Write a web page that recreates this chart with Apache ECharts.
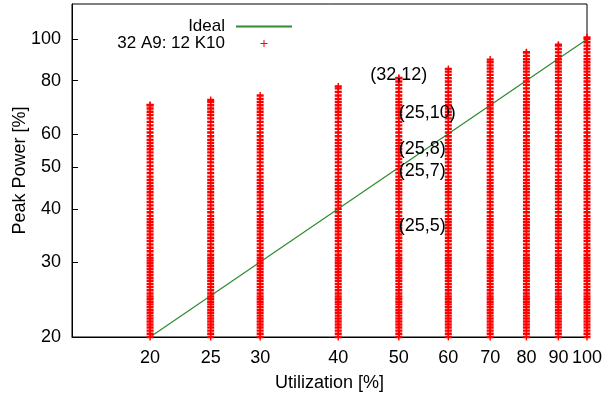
<!DOCTYPE html>
<html>
<head>
<meta charset="utf-8">
<script src="https://cdn.jsdelivr.net/npm/echarts@6/dist/echarts.min.js"></script>
<style>html,body{margin:0;padding:0;background:#fff}#c{width:603px;height:401px}</style>
</head>
<body>
<div id="c"></div>
<script>
const xTicks = [20, 25, 30, 40, 50, 60, 70, 80, 90, 100];
const yTicks = [20, 30, 40, 50, 60, 80, 100];
const utilization = [20, 25, 30, 40, 50, 60, 70, 80, 90, 100];
const columnTop = [70.1, 72.0, 73.8, 77.5, 81.1, 85.2, 89.6, 93.2, 97.1, 101.0];
const powerLevels = [
  20.00,20.35,20.70,21.05,21.40,21.75,22.10,22.45,22.80,23.15,23.50,23.85,24.20,24.55,24.90,
  25.30,25.75,26.20,26.65,27.10,27.55,28.00,28.45,28.90,29.35,29.80,30.25,30.70,
  31.2,31.8,32.4,33.0,33.6,34.2,34.8,35.4,36.0,36.6,37.2,37.8,
  38.5,39.25,40.0,40.75,41.5,42.25,43.0,43.75,44.5,45.25,46.0,46.75,
  47.6,48.55,49.5,50.45,51.4,52.35,53.3,54.25,55.2,56.15,57.1,58.05,
  59.2,60.4,61.6,62.8,64.0,65.2,66.4,67.6,68.8,70.0,71.2,72.4,
  73.8,75.25,76.7,78.15,79.6,81.05,82.5,83.95,85.4,86.85,88.3,89.75,
  91.4,93.15,94.9,96.65,98.4,100.15
];
const idealX = [20, 100];
const idealY = [20, 100];
const labelText = ['(32,12)', '(25,10)', '(25,8)', '(25,7)', '(25,5)'];
const labelX = [45, 50, 50, 50, 50];
const labelY = [82.4, 67.1, 55.3, 49.1, 36.5];

const FONT = 'Liberation Sans';
const plusPath = 'path://M0,3.3H10V6.7H0Z M4,0H6V10H4Z';
const legendPlus = 'path://M0,4.3H10V5.7H0Z M4.3,0H5.7V10H4.3Z';

const pointData = [];
utilization.forEach((u, i) => {
  powerLevels.filter(v => v < columnTop[i]).forEach(v => pointData.push([u, v]));
  pointData.push([u, columnTop[i]]);
});

const chart = echarts.init(document.getElementById('c'));
chart.setOption({
  animation: false,
  textStyle: { fontFamily: FONT },
  grid: { left: 72, right: 16, top: 4, bottom: 64, show: true, borderColor: '#000', borderWidth: 1, outerBoundsMode: 'none', containLabel: false },
  legend: {
    orient: 'vertical', align: 'right', right: 310, top: 18, padding: 0,
    itemWidth: 56, itemHeight: 7, itemGap: 0,
    textStyle: { fontSize: 17, color: '#000', fontFamily: FONT, lineHeight: 17, padding: [0, 6, 0, 0] },
    data: [{ name: 'Ideal' }, { name: '32 A9: 12 K10', icon: legendPlus }]
  },
  xAxis: {
    type: 'log', logBase: 10, min: 15, max: 100,
    name: 'Utilization [%]', nameLocation: 'middle', nameGap: 37, nameMoveOverlap: false,
    nameTextStyle: { fontSize: 18, color: '#000', fontFamily: FONT },
    axisLine: { lineStyle: { color: '#000', width: 1 } },
    axisTick: { inside: true, length: 6, customValues: xTicks, lineStyle: { color: '#000' } },
    axisLabel: { customValues: xTicks, fontSize: 18, color: '#000', margin: 12, fontFamily: FONT },
    splitLine: { show: false }, minorTick: { show: false }
  },
  yAxis: {
    type: 'log', logBase: 10, min: 20, max: 121,
    name: 'Peak Power [%]', nameLocation: 'middle', nameGap: 43, nameMoveOverlap: false,
    nameTextStyle: { fontSize: 18, color: '#000', fontFamily: FONT },
    axisLine: { show: true, lineStyle: { color: '#000', width: 1 } },
    axisTick: { show: true, inside: true, length: 6, customValues: yTicks, lineStyle: { color: '#000' } },
    axisLabel: { customValues: yTicks, fontSize: 18, color: '#000', margin: 11, fontFamily: FONT },
    splitLine: { show: false }, minorTick: { show: false }
  },
  series: [
    {
      name: 'Ideal', type: 'line', symbol: 'none', z: 2,
      data: idealX.map((x, i) => [x, idealY[i]]),
      lineStyle: { color: '#2e8b2e', width: 1.2 },
      itemStyle: { color: 'rgba(0,0,0,0)', borderWidth: 0 }
    },
    {
      name: '32 A9: 12 K10', type: 'scatter', symbol: plusPath, symbolSize: 7, z: 3,
      large: false, progressive: 0,
      data: pointData,
      itemStyle: { color: '#ff0000', opacity: 1 }
    },
    {
      name: 'labels', type: 'custom', z: 10, zlevel: 1, silent: true,
      data: labelX.map((x, i) => [x, labelY[i], i]),
      encode: { x: 0, y: 1 },
      renderItem: function (params, api) {
        const p = api.coord([api.value(0), api.value(1)]);
        return {
          type: 'text', x: p[0], y: p[1],
          style: { text: labelText[api.value(2)], fill: '#000', font: '18px "Liberation Sans"', align: 'left', verticalAlign: 'middle' }
        };
      }
    }
  ]
});
</script>
</body>
</html>
